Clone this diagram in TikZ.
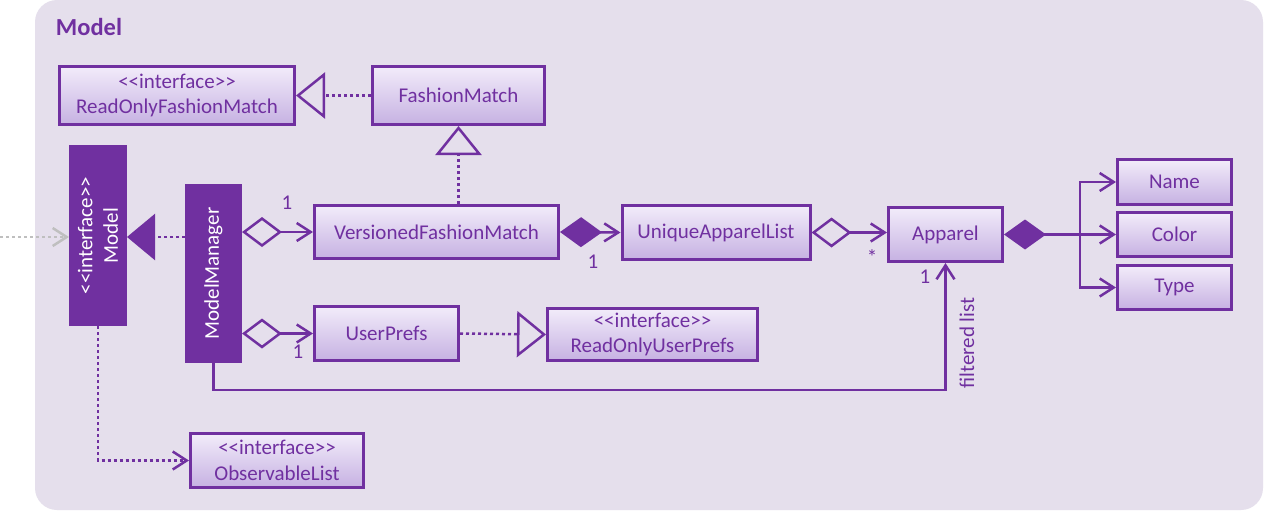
\documentclass[tikz,border=0pt]{standalone}
\usepackage{fontspec}
\setmainfont{Carlito}
\usetikzlibrary{arrows.meta,calc}
\definecolor{pur}{HTML}{7030A0}
\definecolor{bgc}{HTML}{E5DFEC}
\definecolor{gtop}{HTML}{F2ECFA}
\definecolor{gbot}{HTML}{C6B1E2}
\definecolor{grayc}{HTML}{BFBFBF}
\newcommand{\stereo}{<{}<interface>{}>}
\begin{document}
\begin{tikzpicture}[x=1pt,y=-1pt,
  txt/.style={text=pur,font=\fontsize{21}{25.5}\selectfont,inner sep=0pt},
  cls/.style={txt,draw=pur,line width=3pt,top color=gtop,bottom color=gbot,align=center},
  solidcls/.style={draw=pur,fill=pur,line width=3pt,inner sep=0pt},
  vtxt/.style={txt,text=white,align=center,rotate=90},
  con/.style={draw=pur,line width=2.5pt},
  dotcon/.style={con,dash pattern=on 3pt off 3pt},
  vhead/.style={arrows={-{Straight Barb[length=14pt,width=18pt]}}},
  agg/.style={arrows={{Diamond[open,length=40pt,width=30pt]}-{Straight Barb[length=14pt,width=18pt]}}},
  comp/.style={arrows={{Diamond[length=42pt,width=30pt]}-{Straight Barb[length=14pt,width=18pt]}}},
  realz/.style={arrows={-{Triangle[open,length=29pt,width=46pt]}}},
  lbl/.style={txt}]
\useasboundingbox (0,0) rectangle (1264,512);
\fill[white] (0,0) rectangle (1264,512);
\fill[bgc,rounded corners=22pt] (35,0) rectangle (1263,510);

\node[txt,font=\fontsize{24.5}{28}\selectfont\bfseries] (title) at (89,27) {Model};

% class boxes
\node[cls,minimum width=235pt,minimum height=58pt] (rofm) at (177,95.5) {\stereo\\ReadOnlyFashionMatch};
\node[cls,minimum width=172pt,minimum height=58pt] (fm) at (458.5,95.5) {FashionMatch};
\node[solidcls,minimum width=55pt,minimum height=178pt] (model) at (98,235.5) {};
\node[vtxt] (modeltxt) at (model.center) {\stereo\\Model};
\node[solidcls,minimum width=54pt,minimum height=176pt] (mm) at (213.5,273.5) {};
\node[vtxt] (mmtxt) at (mm.center) {ModelManager};
\node[cls,minimum width=244pt,minimum height=53pt] (vfm) at (436.5,232) {VersionedFashionMatch};
\node[cls,minimum width=188pt,minimum height=54pt] (ual) at (716,232.5) {UniqueApparelList};
\node[cls,minimum width=114pt,minimum height=54pt] (app) at (945.5,234.5) {Apparel};
\node[cls,minimum width=114pt,minimum height=45pt] (name) at (1174.5,182) {Name};
\node[cls,minimum width=114pt,minimum height=44pt] (color) at (1174.5,234.5) {Color};
\node[cls,minimum width=114pt,minimum height=44pt] (type) at (1174.5,287.5) {Type};
\node[cls,minimum width=144pt,minimum height=54pt] (up) at (386.5,333.5) {UserPrefs};
\node[cls,minimum width=210pt,minimum height=52pt] (roup) at (652.5,334.5) {\stereo\\ReadOnlyUserPrefs};
\node[cls,minimum width=173pt,minimum height=54pt] (ol) at (277,460.5) {\stereo\\ObservableList};

% helper coordinates
\coordinate (ext) at (0,237);
\coordinate (br) at (1080,234.5);
\coordinate (flc) at (945.5,390);

% connectors
\draw[line width=2.5pt,draw=grayc,dash pattern=on 3pt off 3pt,arrows={-{Straight Barb[length=14pt,width=18pt]}}] (ext) -- (ext -| model.west);
\draw[dotcon,realz] (fm.west) -- (rofm.east);
\draw[dotcon,realz] (vfm.north -| fm.south) -- (fm.south);
\draw[dotcon,arrows={-{Triangle[length=28pt,width=46pt]}}] (mm.west |- ext) -- (ext -| model.east);
\draw[con,agg] (mm.east |- vfm.west) -- (vfm.west);
\draw[con,agg] (mm.east |- up.west) -- (up.west);
\draw[con,comp] (vfm.east) -- (ual.west);
\draw[con,agg] (ual.east) -- (ual.east -| app.west);
\draw[con,arrows={{Diamond[length=42pt,width=30pt]}-}] (app.east) -- (br);
\draw[con,vhead] (br) |- (name.west);
\draw[con,vhead] (br) -- (color.west);
\draw[con,vhead] (br) |- (type.west);
\draw[dotcon,realz] (up.east) -- (roup.west);
\draw[dotcon,vhead] (model.south) |- (ol.west);
\draw[con,vhead] (mm.south) |- (flc) -- (app.south);

% labels
\node[lbl] (l1) at (287,203) {1};
\node[lbl] (l2) at (593,262) {1};
\node[lbl] (l3) at (872,257) {*};
\node[lbl] (l4) at (925,277) {1};
\node[lbl] (l5) at (298,352) {1};
\node[lbl,rotate=90] (l6) at (967,343) {filtered list};
\end{tikzpicture}
\end{document}
